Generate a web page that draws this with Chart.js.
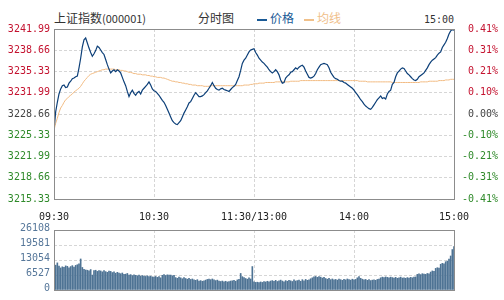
<!DOCTYPE html>
<html>
<head>
<meta charset="utf-8">
<script src="https://cdn.jsdelivr.net/npm/chart.js@4"></script>
<style>
  body { margin: 0; background: #fff; width: 504px; height: 300px; overflow: hidden; position: relative; font-family: "Noto Sans CJK SC", sans-serif; }
  #mainWrap { position: absolute; left: 0; top: 0; width: 504px; height: 230px; }
  #volWrap { position: absolute; left: 0; top: 220px; width: 504px; height: 80px; }
  .hd { position: absolute; top: 10px; font-size: 12px; line-height: 16px; color: #333; white-space: nowrap; }
  .mono { font-family: "DejaVu Sans Mono", monospace; font-size: 10px; }
  .key { display: inline-block; width: 10px; height: 2px; vertical-align: middle; margin-right: 3px; }
</style>
</head>
<body>
<div class="hd" style="left:54px">上证指数<span style="font-size:11px">(000001)</span></div>
<div class="hd" style="left:198px">分时图</div>
<div class="hd" style="left:257px;color:#1a5a96"><span class="key" style="background:#1a5a96"></span>价格</div>
<div class="hd" style="left:304px;color:#f0c08a"><span class="key" style="background:#f0c08a"></span>均线</div>
<div class="hd mono" style="left:424px;top:12px">15:00</div>
<div id="mainWrap"><canvas id="mainChart"></canvas></div>
<div id="volWrap"><canvas id="volChart"></canvas></div>
<script>
// tick labels
let timeLabels = ['09:30', '10:30', '11:30/13:00', '14:00', '15:00'];
let priceTicks = [3241.99, 3238.66, 3235.33, 3231.99, 3228.66, 3225.33, 3221.99, 3218.66, 3215.33];
let pctLabels = ['0.41%', '0.31%', '0.21%', '0.10%', '0.00%', '-0.10%', '-0.21%', '-0.31%', '-0.41%'];
let preClose = 3228.66;
let volTicks = [0, 6527, 13054, 19581, 26108];

// price per minute, 09:30 .. 15:00
let price = [
  3226.1, 3229.0, 3230.5, 3231.8, 3232.6, 3233.1, 3233.2, 3232.8, 3232.9, 3233.5,
  3233.8, 3234.2, 3234.3, 3234.5, 3234.6, 3235.9, 3237.4, 3239.2, 3240.3, 3240.6,
  3239.8, 3239.0, 3238.3, 3237.7, 3238.1, 3238.6, 3239.3, 3239.1, 3238.7, 3238.3,
  3238.0, 3237.2, 3236.4, 3235.7, 3235.1, 3235.4, 3235.6, 3235.3, 3235.6, 3235.4,
  3235.1, 3234.4, 3233.7, 3233.1, 3232.2, 3231.4, 3232.0, 3232.4, 3231.9, 3231.6,
  3232.0, 3232.2, 3231.8, 3232.4, 3232.7, 3233.0, 3233.3, 3233.7, 3233.2, 3232.6,
  3232.3, 3232.2, 3231.9, 3231.6, 3231.2, 3230.8, 3230.5, 3230.0, 3229.4, 3228.8,
  3228.2, 3227.6, 3227.3, 3227.1, 3227.0, 3227.3, 3227.6, 3228.2, 3228.8, 3229.3,
  3229.8, 3230.4, 3230.6, 3231.1, 3231.6, 3232.0, 3231.7, 3231.4, 3231.4, 3231.5,
  3231.7, 3232.0, 3232.3, 3232.7, 3233.1, 3233.6, 3233.1, 3232.7, 3232.5, 3232.4,
  3232.6, 3232.7, 3232.5, 3232.4, 3232.3, 3232.2, 3232.5, 3232.8, 3233.0, 3233.3,
  3233.9, 3234.5, 3235.5, 3236.6, 3237.1, 3237.4, 3237.9, 3238.4, 3238.7, 3238.8,
  3238.9, 3238.3, 3237.9, 3237.4, 3237.1, 3236.8, 3236.6, 3236.3, 3236.0, 3235.6,
  3235.3, 3235.1, 3235.3, 3235.6, 3235.3, 3234.8, 3234.0, 3233.5, 3233.6, 3234.3,
  3234.6, 3234.8, 3235.2, 3235.3, 3235.6, 3235.9, 3235.7, 3236.0, 3236.2, 3236.3,
  3236.0, 3235.4, 3234.9, 3234.4, 3234.3, 3234.4, 3234.6, 3235.0, 3235.6, 3236.0,
  3236.4, 3236.5, 3236.6, 3236.5, 3236.4, 3235.9, 3235.2, 3234.8, 3234.4, 3234.2,
  3234.1, 3233.9, 3233.8, 3233.8, 3233.6, 3233.5, 3233.3, 3233.1, 3232.9, 3232.7,
  3232.4, 3232.0, 3231.7, 3231.3, 3230.9, 3230.6, 3230.2, 3229.9, 3229.7, 3229.5,
  3229.4, 3229.7, 3230.1, 3230.5, 3230.9, 3231.2, 3231.5, 3231.1, 3231.2, 3231.0,
  3231.8, 3232.2, 3232.4, 3233.3, 3233.6, 3234.5, 3235.1, 3235.4, 3235.7, 3235.9,
  3235.8, 3235.4, 3235.0, 3234.8, 3234.5, 3234.2, 3234.0, 3233.9, 3234.1, 3234.5,
  3234.7, 3234.9, 3235.1, 3235.5, 3235.9, 3236.4, 3236.8, 3237.1, 3237.3, 3237.5,
  3237.9, 3238.2, 3238.4, 3239.1, 3239.5, 3239.9, 3240.5, 3241.2, 3241.7, 3241.9,
  3241.8
];

// average price line
let avgPrice = [
  3226.1, 3227.2, 3228.0, 3228.9, 3229.6, 3230.0, 3230.5, 3230.9, 3231.1, 3231.4,
  3231.6, 3231.8, 3232.1, 3232.3, 3232.5, 3232.7, 3233.0, 3233.4, 3233.8, 3234.1,
  3234.4, 3234.7, 3234.9, 3235.0, 3235.1, 3235.2, 3235.3, 3235.4, 3235.5, 3235.6,
  3235.6, 3235.7, 3235.7, 3235.7, 3235.7, 3235.7, 3235.7, 3235.6, 3235.6, 3235.6,
  3235.5, 3235.5, 3235.4, 3235.4, 3235.3, 3235.2, 3235.2, 3235.1, 3235.0, 3235.0,
  3234.9, 3234.9, 3234.9, 3234.8, 3234.8, 3234.8, 3234.7, 3234.7, 3234.6, 3234.6,
  3234.5, 3234.5, 3234.4, 3234.4, 3234.4, 3234.3, 3234.3, 3234.2, 3234.1, 3234.0,
  3233.9, 3233.8, 3233.8, 3233.7, 3233.7, 3233.6, 3233.6, 3233.5, 3233.5, 3233.4,
  3233.4, 3233.3, 3233.3, 3233.2, 3233.2, 3233.2, 3233.1, 3233.1, 3233.1, 3233.1,
  3233.0, 3233.0, 3233.0, 3233.0, 3233.1, 3233.1, 3233.1, 3233.1, 3233.1, 3233.1,
  3233.1, 3233.1, 3233.1, 3233.1, 3233.1, 3233.1, 3233.1, 3233.1, 3233.1, 3233.1,
  3233.1, 3233.1, 3233.1, 3233.1, 3233.2, 3233.2, 3233.2, 3233.2, 3233.3, 3233.3,
  3233.4, 3233.4, 3233.4, 3233.5, 3233.5, 3233.5, 3233.5, 3233.6, 3233.6, 3233.6,
  3233.6, 3233.6, 3233.6, 3233.7, 3233.7, 3233.7, 3233.7, 3233.7, 3233.7, 3233.7,
  3233.7, 3233.7, 3233.8, 3233.8, 3233.8, 3233.8, 3233.8, 3233.8, 3233.9, 3233.9,
  3233.9, 3233.9, 3233.9, 3233.9, 3233.9, 3233.9, 3233.9, 3233.9, 3233.9, 3233.9,
  3233.9, 3233.9, 3233.9, 3233.9, 3233.9, 3233.9, 3233.9, 3233.9, 3233.9, 3233.9,
  3233.9, 3233.9, 3233.9, 3233.9, 3233.9, 3233.9, 3233.9, 3233.9, 3233.9, 3233.9,
  3233.9, 3233.9, 3233.9, 3233.8, 3233.8, 3233.8, 3233.8, 3233.8, 3233.7, 3233.7,
  3233.7, 3233.7, 3233.7, 3233.7, 3233.7, 3233.7, 3233.7, 3233.7, 3233.7, 3233.7,
  3233.7, 3233.7, 3233.7, 3233.6, 3233.6, 3233.6, 3233.6, 3233.6, 3233.6, 3233.6,
  3233.6, 3233.6, 3233.6, 3233.6, 3233.6, 3233.6, 3233.6, 3233.6, 3233.6, 3233.6,
  3233.7, 3233.7, 3233.7, 3233.7, 3233.7, 3233.8, 3233.8, 3233.8, 3233.8, 3233.8,
  3233.8, 3233.9, 3233.9, 3233.9, 3233.9, 3234.0, 3234.0, 3234.0, 3234.1, 3234.1,
  3234.1
];

// volume per minute
let volume = [
  11200, 10800, 11800, 10400, 9600, 10100, 9900, 10500, 10300, 9700,
  10200, 10600, 10000, 10700, 11000, 11400, 13500, 9800, 9000, 8700,
  8600, 8300, 8900, 6500, 8400, 8600, 8100, 8500, 8300, 7900,
  8400, 8000, 7700, 8200, 8100, 7600, 7900, 7300, 7700, 7400,
  7100, 7400, 6800, 6900, 7200, 6500, 6700, 6300, 6600, 6400,
  6200, 6500, 6000, 6300, 6100, 5900, 6200, 5800, 6000, 5700,
  5600, 5900, 5500, 5800, 5300, 6400, 6700, 6300, 6600, 6500,
  6500, 6200, 6400, 5400, 5100, 5600, 5300, 4900, 5400, 5000,
  4700, 5100, 4600, 4800, 4400, 4200, 4500, 3900, 4100, 3800,
  4000, 4300, 4600, 4700, 4500, 4800, 4400, 4100, 4300, 3900,
  3700, 3900, 3600, 3800, 3500, 3700, 3900, 4000, 4200, 3800,
  4400, 4600, 7200, 5800, 5400, 5000, 4700, 5300, 4800, 10200,
  3600, 3300, 3400, 3200, 3500, 3300, 3700, 3500, 3800, 3600,
  3900, 4100, 3800, 4200, 3700, 4000, 4300, 3900, 3600, 4100,
  3800, 4200, 4000, 3700, 4400, 3900, 4100, 4300, 3800, 4500,
  4000, 4600, 4200, 4400, 4900, 5300, 5700, 5900, 5500, 5800,
  5600, 5200, 5500, 5000, 4700, 5100, 4500, 4800, 4400, 4600,
  4300, 4700, 4500, 4200, 4600, 4400, 4800, 4500, 4300, 4700,
  4400, 4600, 5300, 5800, 5100, 4700, 4400, 4600, 4200, 4500,
  4100, 4300, 4400, 4200, 4600, 4800, 5300, 5600, 5400, 5700,
  5500, 5300, 5600, 5400, 5200, 5500, 5100, 5300, 5600, 5200,
  5300, 5100, 5400, 5200, 5500, 5300, 5600, 5700, 6800, 7000,
  6700, 7100, 6900, 6800, 7200, 7000, 7800, 8300, 8100, 9400,
  9700, 9500, 11200, 11600, 11400, 12300, 12600, 13500, 14800, 17600,
  18900
];

let minutes = [];
for (let i = 0; i < price.length; i++) {
    minutes.push(i);
}

const monoFont = { family: 'DejaVu Sans Mono', size: 10 };
const gridStyle = { color: '#d6d6d6', drawTicks: false, offset: false };
const borderStyle = { display: false, dash: [3, 2] };

// draws the grey box round the plot area
const frame = {
    id: 'frame',
    afterDraw(chart) {
        const a = chart.chartArea;
        const ctx = chart.ctx;
        ctx.save();
        ctx.strokeStyle = '#8c8c8c';
        ctx.lineWidth = 1;
        ctx.strokeRect(Math.round(a.left) + 0.5, Math.round(a.top) + 0.5, Math.round(a.right - a.left), Math.round(a.bottom - a.top));
        ctx.restore();
    }
};

function tickColor(ctx) {
    const v = priceTicks[ctx.index];
    if (v > preClose) return '#c4122f';
    if (v < preClose) return '#2f8a2a';
    return '#444';
}

new Chart(document.getElementById('mainChart'), {
    type: 'line',
    data: {
        labels: minutes,
        datasets: [
            { data: price, borderColor: '#0c3f78', borderWidth: 1.2, pointRadius: 0, tension: 0, yAxisID: 'y' },
            { data: avgPrice, borderColor: '#f2bc84', borderWidth: 1, pointRadius: 0, tension: 0, yAxisID: 'y' }
        ]
    },
    options: {
        responsive: true,
        maintainAspectRatio: false,
        animation: false,
        layout: { padding: { top: 29, right: 6, left: 0, bottom: 0 } },
        plugins: { legend: { display: false }, tooltip: { enabled: false } },
        scales: {
            x: {
                type: 'linear',
                min: 0,
                max: 240,
                offset: false,
                grid: gridStyle,
                border: borderStyle,
                afterFit: (s) => { s.height = 31; },
                ticks: {
                    stepSize: 60,
                    autoSkip: false,
                    maxRotation: 0,
                    padding: 12,
                    color: '#222',
                    font: monoFont,
                    callback: (v) => timeLabels[v / 60]
                }
            },
            y: {
                position: 'left',
                min: priceTicks[8],
                max: priceTicks[0],
                grid: gridStyle,
                border: borderStyle,
                afterFit: (s) => { s.width = 54; },
                afterBuildTicks: (s) => { s.ticks = priceTicks.map(v => ({ value: v })); },
                ticks: {
                    padding: 4,
                    font: monoFont,
                    color: tickColor,
                    callback: (v, i) => priceTicks[i].toFixed(2)
                }
            },
            y1: {
                position: 'right',
                min: priceTicks[8],
                max: priceTicks[0],
                grid: { display: false, drawTicks: false },
                border: { display: false },
                afterFit: (s) => { s.width = 44; },
                afterBuildTicks: (s) => { s.ticks = priceTicks.map(v => ({ value: v })); },
                ticks: {
                    crossAlign: 'far',
                    font: monoFont,
                    color: tickColor,
                    callback: (v, i) => pctLabels[i]
                }
            }
        }
    },
    plugins: [frame]
});

new Chart(document.getElementById('volChart'), {
    type: 'bar',
    data: {
        labels: minutes,
        datasets: [
            { data: volume, backgroundColor: '#4e7394', barThickness: 1, borderWidth: 0 }
        ]
    },
    options: {
        responsive: true,
        maintainAspectRatio: false,
        animation: false,
        layout: { padding: { top: 9, right: 50, left: 0, bottom: 1 } },
        plugins: { legend: { display: false }, tooltip: { enabled: false } },
        scales: {
            x: {
                type: 'linear',
                min: 0,
                max: 240,
                offset: false,
                grid: gridStyle,
                border: borderStyle,
                afterFit: (s) => { s.height = 0; },
                ticks: { display: false, stepSize: 60 }
            },
            y: {
                min: 0,
                max: volTicks[4],
                grid: gridStyle,
                border: borderStyle,
                afterFit: (s) => { s.width = 54; },
                afterBuildTicks: (s) => { s.ticks = volTicks.map(v => ({ value: v })); },
                ticks: {
                    padding: 4,
                    labelOffset: -2,
                    font: monoFont,
                    color: '#56779a',
                    callback: (v) => String(v)
                }
            }
        }
    },
    plugins: [frame]
});
</script>
</body>
</html>
